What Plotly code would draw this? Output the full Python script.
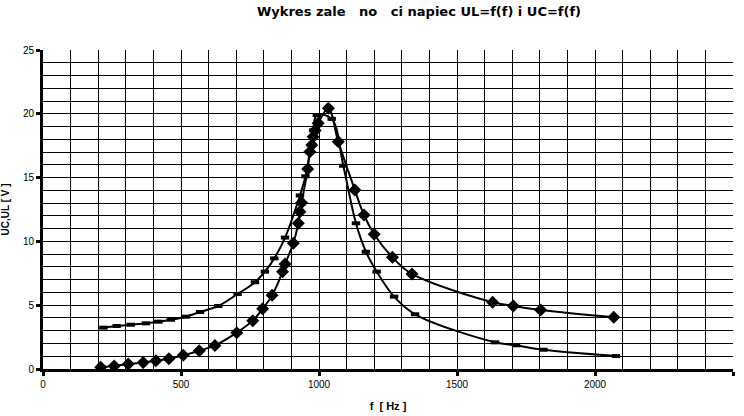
import plotly.graph_objects as go

# UL series (diamond markers)
f_ul = [209, 258, 309, 363, 409, 456, 508, 566, 623, 702, 760, 796, 830, 868, 877,
        907, 925, 931, 937, 959, 967, 974, 979, 986, 997, 1034, 1070, 1130, 1163,
        1200, 1266, 1337, 1629, 1704, 1803, 2068]
ul = [0.13, 0.23, 0.39, 0.5, 0.65, 0.81, 1.07, 1.43, 1.85, 2.85, 3.79, 4.72, 5.77,
      7.63, 8.23, 9.85, 11.42, 12.33, 13.03, 15.67, 17.03, 17.55, 18.2, 18.7, 19.25,
      20.43, 17.8, 14.03, 12.07, 10.56, 8.75, 7.45, 5.23, 4.94, 4.62, 4.05]

# UC series (dash markers)
f_uc = [219, 267, 318, 373, 418, 463, 518, 569, 635, 705, 768, 804, 838, 877, 931,
        951, 967, 979, 992, 1046, 1088, 1134, 1170, 1209, 1272, 1348, 1638, 1714,
        1813, 2076]
uc = [3.24, 3.37, 3.47, 3.58, 3.71, 3.86, 4.1, 4.47, 4.94, 5.88, 6.8, 7.63, 8.67,
      10.3, 13.6, 15.1, 17.0, 18.7, 19.9, 19.6, 15.93, 11.42, 9.19, 7.63, 5.67, 4.29,
      2.09, 1.86, 1.51, 1.02]

title_text = "Wykres zale\u00a0\u00a0\u00a0no\u00a0\u00a0\u00a0ci napiec UL=f(f) i UC=f(f)"
x_title = "f  [ Hz ]"
y_title = "UC,UL [ V ]"

FONT = "Liberation Sans, Arial, sans-serif"
TFONT = "DejaVu Sans, Liberation Sans, sans-serif"

fig = go.Figure()
fig.add_trace(go.Scatter(
    x=f_uc, y=uc, mode="lines+markers", name="UC",
    line=dict(color="black", width=2, shape="spline", smoothing=1.0),
    marker=dict(symbol="line-ew", size=6, color="black",
                line=dict(color="black", width=4)),
))
fig.add_trace(go.Scatter(
    x=f_ul, y=ul, mode="lines+markers", name="UL",
    line=dict(color="black", width=2, shape="spline", smoothing=1.0),
    marker=dict(symbol="diamond", size=10, color="black"),
))

axis_common = dict(
    showline=True, linecolor="black", linewidth=3,
    showgrid=True, gridcolor="black", gridwidth=1,
    ticks="outside", ticklen=4, tickwidth=3, tickcolor="black",
    zeroline=False, automargin=False,
    tickfont=dict(family=FONT, size=10, color="black"),
)

fig.update_layout(
    width=744, height=416,
    margin=dict(l=43, r=11, t=50, b=47),
    paper_bgcolor="white", plot_bgcolor="white",
    showlegend=False,
    font=dict(family=FONT, color="black"),
    title=dict(text=title_text, x=419 / 744, xanchor="center", xref="container",
               y=1 - 11 / 416, yanchor="middle", yref="container",
               font=dict(family=TFONT, size=13, color="black", weight="bold")),
    xaxis=dict(range=[0, 2500], dtick=500, tick0=0,
               minor=dict(dtick=100, showgrid=True, gridcolor="black", gridwidth=1),
               title=dict(text=x_title, standoff=14,
                          font=dict(family=FONT, size=11, color="black", weight="bold")),
               **axis_common),
    yaxis=dict(range=[0, 25], dtick=5, tick0=0,
               minor=dict(dtick=1, showgrid=True, gridcolor="black", gridwidth=1),
               title=dict(text=y_title, standoff=12,
                          font=dict(family=FONT, size=10, color="black", weight="bold")),
               **axis_common),
)

fig.write_html("out.html")
